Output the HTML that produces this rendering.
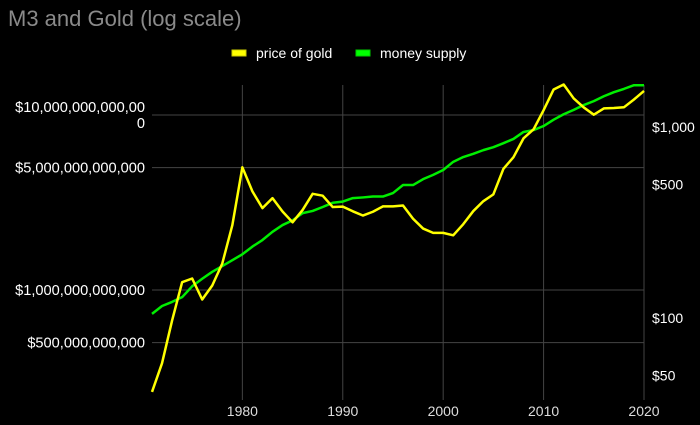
<!DOCTYPE html>
<html><head><meta charset="utf-8"><style>
html,body{margin:0;padding:0;background:#000;width:700px;height:425px;overflow:hidden;font-family:"Liberation Sans",sans-serif}
</style></head><body>
<svg id="c" width="700" height="425" style="position:absolute;left:0;top:0">
<text x="8" y="26" fill="#8a8a8a" font-size="22">M3 and Gold (log scale)</text>
<g>
<rect x="232" y="50" width="14" height="6" fill="#ffff00" stroke="#cccc00"/>
<text x="256" y="58" fill="#fff" font-size="14">price of gold</text>
<rect x="356" y="50" width="14" height="6" fill="#00ff00" stroke="#00cc00"/>
<text x="380" y="58" fill="#fff" font-size="14">money supply</text>
</g>
<g id="grid"></g><g id="axes"></g><g id="series"></g>
</svg>
<script>
const years=[1971,1972,1973,1974,1975,1976,1977,1978,1979,1980,1981,1982,1983,1984,1985,1986,1987,1988,1989,1990,1991,1992,1993,1994,1995,1996,1997,1998,1999,2000,2001,2002,2003,2004,2005,2006,2007,2008,2009,2010,2011,2012,2013,2014,2015,2016,2017,2018,2019,2020];
const gold=[41,58,97,154,161,125,148,193,306,615,460,376,424,361,317,368,447,437,381,383,362,344,360,384,384,388,331,294,279,279,271,310,363,409,444,604,695,872,972,1225,1572,1669,1411,1266,1160,1251,1257,1268,1393,1545];
const money=[0.73e12,0.81e12,0.855e12,0.91e12,1.05e12,1.16e12,1.27e12,1.37e12,1.48e12,1.6e12,1.77e12,1.93e12,2.15e12,2.35e12,2.5e12,2.75e12,2.83e12,2.98e12,3.15e12,3.2e12,3.35e12,3.38e12,3.42e12,3.42e12,3.58e12,3.98e12,3.98e12,4.3e12,4.55e12,4.85e12,5.4e12,5.75e12,6.0e12,6.3e12,6.55e12,6.9e12,7.3e12,8.0e12,8.2e12,8.65e12,9.4e12,10.1e12,10.7e12,11.4e12,12.0e12,12.8e12,13.5e12,14.1e12,14.8e12,14.8e12];
const xTicks=[1980,1990,2000,2010,2020];
const leftTicks=[1e13,5e12,1e12,5e11];
const leftLabels=["$10,000,000,000,000","$5,000,000,000,000","$1,000,000,000,000","$500,000,000,000"];
const rightTicks=[1000,500,100,50];
const rightLabels=["$1,000","$500","$100","$50"];
const NS="http://www.w3.org/2000/svg";
const X0=152,X1=644,Y0=85,Y1=400;
const x=y=>X0+(y-1971)*(X1-X0)/(2020-1971);
const yL=v=>115-(Math.log10(v)-13)*175;
const yR=v=>127-(Math.log10(v)-3)*191;
function mk(p,t,a){const e=document.createElementNS(NS,t);for(const k in a)e.setAttribute(k,a[k]);p.appendChild(e);return e;}
const grid=document.getElementById('grid'),axes=document.getElementById('axes'),ser=document.getElementById('series');
xTicks.forEach(t=>{
 const l=mk(grid,'line',{x1:x(t),x2:x(t),y1:Y0,y2:Y1,stroke:'#444','stroke-width':1});
 
 
 const tx=mk(axes,'text',{x:x(t),y:416,fill:'#ddd','font-size':14,'text-anchor':'middle'});tx.textContent=t;
 
 
});
leftTicks.forEach((v,i)=>{
 const l=mk(grid,'line',{x1:X0,x2:X1,y1:yL(v),y2:yL(v),stroke:'#444','stroke-width':1});
 
 
 const s=leftLabels[i];
 if(s.length>18){
  const a=mk(axes,'text',{x:145,y:yL(v)-3,fill:'#fff','font-size':14.6,'text-anchor':'end'});a.textContent=s.slice(0,18);
  
  
  const b=mk(axes,'text',{x:145,y:yL(v)+13,fill:'#fff','font-size':14.6,'text-anchor':'end'});b.textContent=s.slice(18);
  
  
 } else {
  const a=mk(axes,'text',{x:145,y:yL(v)+5,fill:'#fff','font-size':14.6,'text-anchor':'end'});a.textContent=s;
  
  
 }
});
rightTicks.forEach((v,i)=>{
 const a=mk(axes,'text',{x:652,y:yR(v)+5,fill:'#fff','font-size':14});a.textContent=rightLabels[i];
 
 
});
const pm=mk(ser,'polyline',{points:years.map((y,i)=>x(y)+','+yL(money[i])).join(' '),fill:'none',stroke:'#00ee00','stroke-width':2.5,'stroke-linejoin':'round'});


const pg=mk(ser,'polyline',{points:years.map((y,i)=>x(y)+','+yR(gold[i])).join(' '),fill:'none',stroke:'#ffff00','stroke-width':2.5,'stroke-linejoin':'round'});


</script>
</body></html>
